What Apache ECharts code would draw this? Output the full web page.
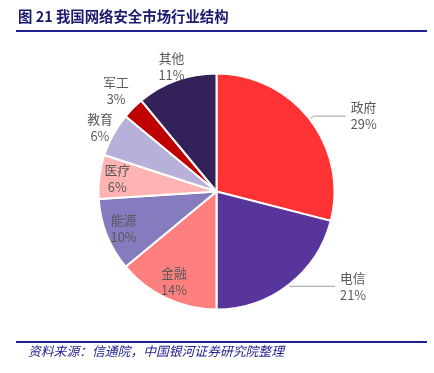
<!DOCTYPE html>
<html>
<head>
<meta charset="utf-8">
<script src="https://cdn.jsdelivr.net/npm/echarts@6/dist/echarts.min.js"></script>
<style>
html,body{margin:0;padding:0;background:#fff;}
#chart{width:434px;height:373px;}
</style>
</head>
<body>
<div id="chart"></div>
<script>
// ---- data ----
var categories = ['政府', '电信', '金融', '能源', '医疗', '教育', '军工', '其他'];
var shares = [29, 21, 14, 10, 6, 6, 3, 11];
var colors = ['#FF3333', '#58359A', '#FF7F7F', '#857BBF', '#FFB3B3', '#B7B1DA', '#C00000', '#33215A'];
var titleText = '图 21 我国网络安全市场行业结构';
var sourceText = '资料来源：信通院，中国银河证券研究院整理';

// label groups (which label sits where)
var outsideWithLine = ['政府', '电信'];
var innerLabels = ['金融', '能源', '医疗'];
var rimLabels = ['教育', '其他'];
var farLabels = ['军工'];

var lineSettings = { '政府': [5, 32], '电信': [2, 45] };

var labelFont = {
  color: '#595959', fontSize: 12.8, lineHeight: 17,
  fontFamily: 'Noto Sans CJK SC, DejaVu Sans, sans-serif',
  formatter: '{b}\n{c}%'
};

var center = [216.5, 191.5];

function mainData() {
  return categories.map(function (n, i) {
    var out = outsideWithLine.indexOf(n) >= 0;
    var d = { name: n, value: shares[i], itemStyle: { color: colors[i] } };
    if (out) {
      d.label = Object.assign({ show: true, position: 'outside', distanceToLabelLine: 5 }, labelFont);
      d.labelLine = { show: true, length: lineSettings[n][0], length2: lineSettings[n][1],
        smooth: false, lineStyle: { color: '#A0A0A0', width: 1 } };
    } else {
      d.label = { show: false };
      d.labelLine = { show: false };
    }
    return d;
  });
}

function labelOnlyData(group) {
  return categories.map(function (n, i) {
    return {
      name: n, value: shares[i],
      itemStyle: { color: 'rgba(0,0,0,0)' },
      label: group.indexOf(n) >= 0 ? Object.assign({ show: true, position: 'inside' }, labelFont) : { show: false }
    };
  });
}

function labelSeries(radius, group) {
  return {
    type: 'pie', center: center, radius: radius, startAngle: 90, clockwise: true,
    silent: true, animation: false, avoidLabelOverlap: false,
    itemStyle: { borderWidth: 0 },
    emphasis: { disabled: true },
    labelLine: { show: false },
    data: labelOnlyData(group), z: 5
  };
}

var chart = echarts.init(document.getElementById('chart'), null, { renderer: 'canvas' });
chart.setOption({
  backgroundColor: '#ffffff',
  animation: false,
  graphic: [
    { type: 'text', left: 18, top: 9, style: { text: titleText, fill: '#1A1A6E',
      font: 'bold 14.4px "Noto Sans CJK SC", sans-serif' } },
    { type: 'rect', shape: { x: 16, y: 30, width: 411, height: 2 }, style: { fill: '#1F1F8F' } },
    { type: 'rect', shape: { x: 16, y: 341, width: 411, height: 2 }, style: { fill: '#1F1F8F' } },
    { type: 'text', left: 28, top: 345, style: { text: sourceText, fill: '#1F1F8F',
      font: 'italic 12.8px "Noto Sans CJK SC", sans-serif' } }
  ],
  series: [
    {
      type: 'pie', center: center, radius: [0, 118], startAngle: 90, clockwise: true,
      avoidLabelOverlap: false, animation: false,
      itemStyle: { borderColor: '#ffffff', borderWidth: 2 },
      emphasis: { disabled: true },
      data: mainData(), z: 2
    },
    labelSeries([80, 114], innerLabels),
    labelSeries([116, 144], rimLabels),
    labelSeries([124, 154], farLabels)
  ]
});
</script>
</body>
</html>
